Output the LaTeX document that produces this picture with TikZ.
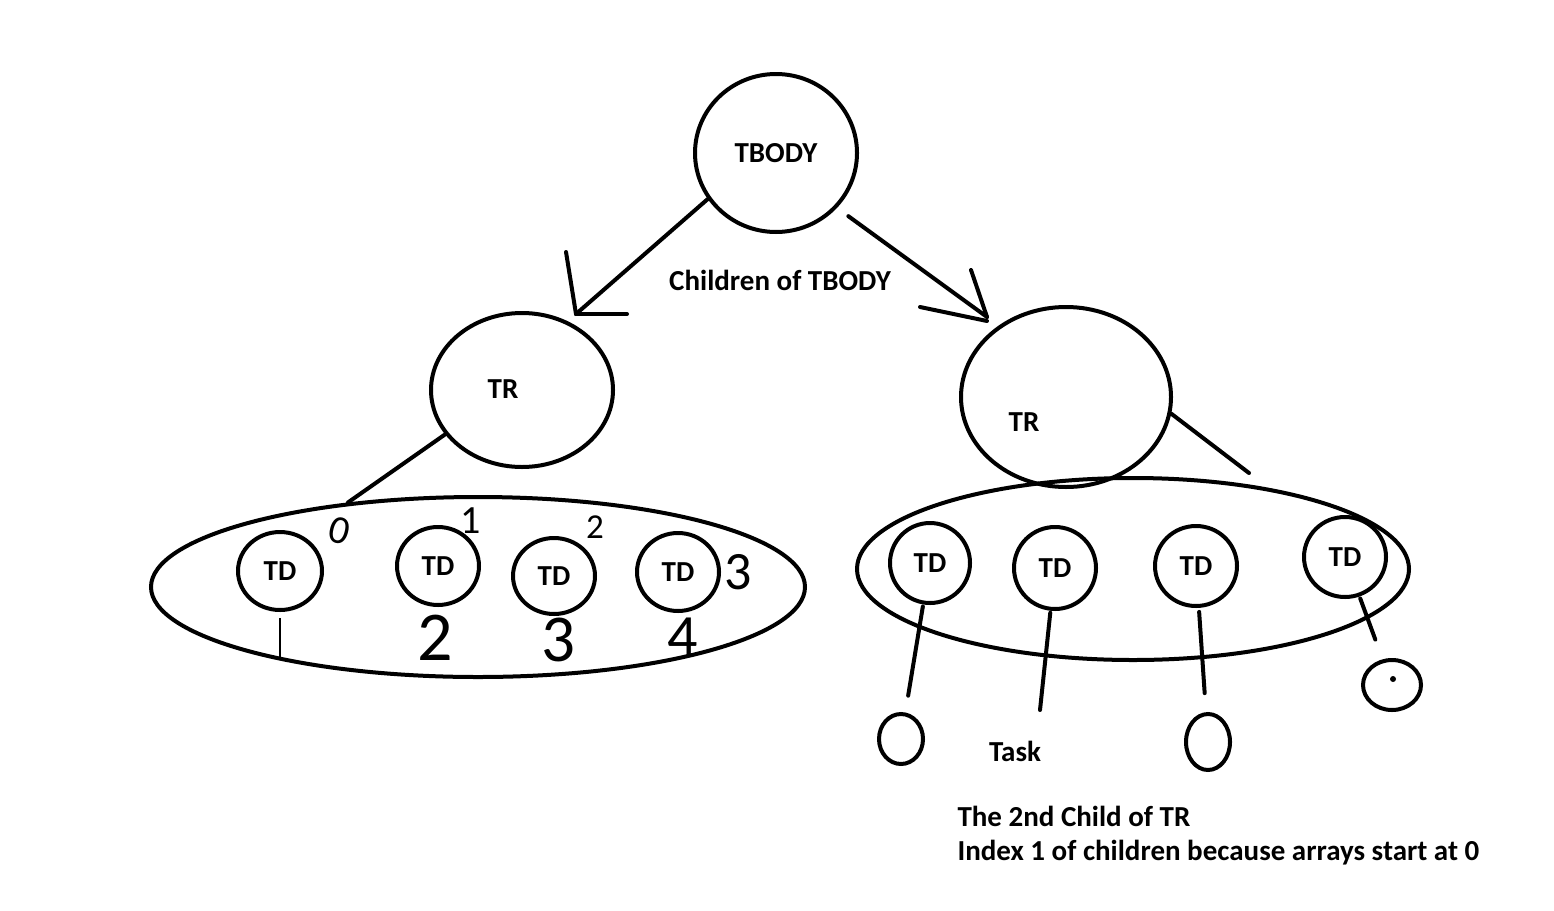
\documentclass[tikz,border=0pt]{standalone}
\usepackage{fontspec}
\setmainfont{Carlito}
\usetikzlibrary{shapes.geometric}
\tikzset{
  lbl/.style={font=\fontsize{29}{33}\selectfont\bfseries},
  blob/.style={draw,ellipse,line width=4pt,inner sep=0pt,lbl},
  stroke/.style={line width=4pt,line cap=round},
  digit/.style={font=\fontsize{#1}{#1}\selectfont,inner sep=0pt},
}

\begin{document}
\begin{tikzpicture}[x=1pt,y=-1pt]
			%%%%% START %%%%%
			\useasboundingbox (0,0) rectangle (1554,910);
			
			\node[blob,minimum width=162,minimum height=158] (tbody) at (776,153) {TBODY};
			\node[lbl] (childrentext) at (780,280) {Children of TBODY};
			
			\node[blob,minimum width=182,minimum height=154] (trleft) at (522,390) {};
			\node[lbl] (trlefttext) at (503,389) {TR};
			\node[blob,minimum width=210,minimum height=180] (trright) at (1066,397) {};
			\node[lbl] (trrighttext) at (1024,422) {TR};
			
			\coordinate (tipleft) at (576,314);
			\draw[stroke] (tbody.214) -- (tipleft);
			\draw[stroke] (tipleft) -- ++(-10,-62);
			\draw[stroke] (tipleft) -- ++(51,0);
			\coordinate (tipright) at (987,317);
			\draw[stroke,shorten <=14pt] (tbody.318) -- (tipright);
			\draw[stroke] (tipright) -- ++(-16,-47);
			\draw[stroke] ([yshift=-4pt]tipright) -- ++(-67,-14);
			
			\node[blob,minimum width=654,minimum height=180] (rowleft) at (478,587) {};
			\node[blob,minimum width=552,minimum height=182] (rowright) at (1133,569) {};
			\draw[stroke] (trleft.210) -- (rowleft.147);
			\coordinate (trrightend) at (1249,473);
			\draw[stroke] (trright.-9) -- (trrightend);
			
			\node[blob,minimum width=84,minimum height=78] (tdl1) at (280,571) {TD};
			\node[blob,minimum width=82,minimum height=78] (tdl2) at (438,566) {TD};
			\node[blob,minimum width=82,minimum height=76] (tdl3) at (554,576) {TD};
			\node[blob,minimum width=82,minimum height=78] (tdl4) at (678,572) {TD};
			\coordinate (tdl1end) at (280,660);
			\draw[line width=2.5pt,shorten <=6pt] (tdl1.south) -- (tdl1end);
			
			\node[digit=40,rotate=-15] (d0) at (340,531) {0};
			\node[digit=40] (d1) at (471,521) {1};
			\node[digit=35] (d2) at (595,527) {2};
			\node[digit=54] (d3) at (738,572) {3};
			\node[digit=70] (d2b) at (435,638) {2};
			\node[digit=67] (d3b) at (558,640) {3};
			\node[digit=60] (d4b) at (683,637) {4};
			
			\node[blob,minimum width=80,minimum height=80] (tdr1) at (930,563) {TD};
			\node[blob,minimum width=82,minimum height=82] (tdr2) at (1055,568) {TD};
			\node[blob,minimum width=82,minimum height=80] (tdr3) at (1196,566) {TD};
			\node[blob,minimum width=82,minimum height=80] (tdr4) at (1345,557) {TD};
			
			\node[blob,minimum width=44,minimum height=50] (leaf1) at (901,739) {};
			\node[blob,minimum width=44,minimum height=56] (leaf3) at (1208,742) {};
			\node[blob,minimum width=58,minimum height=50] (leaf4) at (1392,685) {};
			\node[fill,circle,inner sep=0pt,minimum size=6pt] (leaf4dot) at (1393,679) {};
			\coordinate (tdr2end) at (1040,710);
			
			\draw[stroke,shorten <=2pt,shorten >=17pt] (tdr1) -- (leaf1);
			\draw[stroke,shorten <=2pt] (tdr2) -- (tdr2end);
			\draw[stroke,shorten <=4pt,shorten >=19pt] (tdr3) -- (leaf3);
			\draw[stroke,shorten <=2pt,shorten >=21pt] (tdr4) -- (leaf4);
			
			\node[lbl] (tasktext) at (1015,751) {Task};
			\node[lbl,anchor=west] (note1) at (954,816) {The 2nd Child of TR};
			\node[lbl,anchor=west] (note2) at (954,853) {Index 1 of children because arrays start at 0};
			%%%%% END %%%%%
		\end{tikzpicture}
\end{document}
